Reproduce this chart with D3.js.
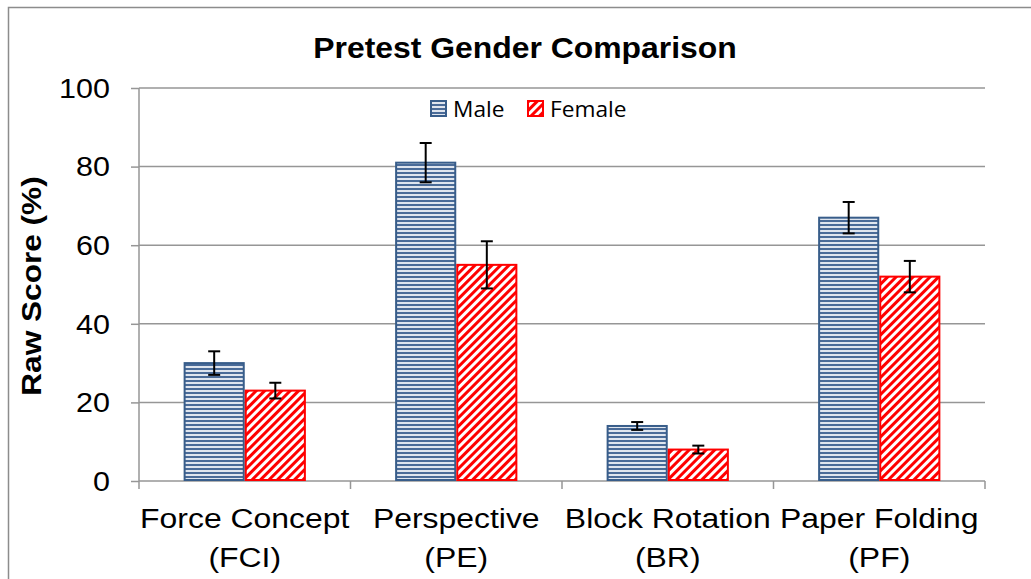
<!DOCTYPE html>
<html><head><meta charset="utf-8">
<script src="https://cdn.jsdelivr.net/npm/d3@7"></script>
<style>body{margin:0;background:#fff;} svg{display:block;}</style>
</head><body>
<svg id="c" width="1031" height="579"></svg>
<script>
const categories = [["Force Concept","(FCI)"],["Perspective","(PE)"],["Block Rotation","(BR)"],["Paper Folding","(PF)"]];
const seriesNames = ["Male","Female"];
const maleValues = [30, 81, 14, 67];
const femaleValues = [23, 55, 8, 52];
const maleErrors = [3, 5, 1, 4];
const femaleErrors = [2, 6, 1, 4];
const yTicks = [0, 20, 40, 60, 80, 100];

(function(){
const svg = d3.select("#c");
const pLeft = 139, pRight = 985, pTop = 88, pBottom = 481;
const FONT = "Liberation Sans, Arial, sans-serif";

const defs = svg.append("defs");
const pm = defs.append("pattern").attr("id","pm").attr("patternUnits","userSpaceOnUse").attr("width",8).attr("height",4);
pm.append("rect").attr("width",8).attr("height",4).attr("fill","#dfe5ee");
pm.append("rect").attr("y",0).attr("width",8).attr("height",2).attr("fill","#4a6b98");
const pf = defs.append("pattern").attr("id","pf").attr("patternUnits","userSpaceOnUse").attr("width",6).attr("height",6).attr("patternTransform","rotate(45)");
pf.append("rect").attr("width",6).attr("height",6).attr("fill","#fff");
pf.append("rect").attr("width",3).attr("height",6).attr("fill","#ff0000");

// outer border
svg.append("rect").attr("x",8.5).attr("y",7.5).attr("width",1040).attr("height",600).attr("fill","none").attr("stroke","#8c8c8c").attr("stroke-width",1.5);

const x0 = d3.scaleBand().domain(d3.range(categories.length)).range([pLeft,pRight]).paddingInner(0).paddingOuter(0);
const x1 = d3.scaleBand().domain(seriesNames).range([0,x0.bandwidth()]).paddingOuter(0.73).paddingInner(0);
const y = d3.scaleLinear().domain([0,100]).range([pBottom,pTop]);

// gridlines
svg.append("g").selectAll("line").data(yTicks.filter(d=>d>0)).join("line")
  .attr("x1",pLeft).attr("x2",pRight).attr("y1",d=>y(d)).attr("y2",d=>y(d))
  .attr("stroke","#969696").attr("stroke-width",1.5);

// y axis
const ya = svg.append("g").attr("transform",`translate(${pLeft},0)`).call(d3.axisLeft(y).tickValues(yTicks).tickSize(8).tickFormat(""));
ya.select(".domain").attr("stroke","#969696").attr("stroke-width",1.5).attr("d",`M0,${pTop}V${pBottom}`);
ya.selectAll(".tick line").attr("stroke","#969696").attr("stroke-width",1.5);
svg.append("g").selectAll("text").data(yTicks).join("text")
  .attr("transform",d=>`translate(110,${y(d)}) scale(1.13,1)`)
  .attr("text-anchor","end").attr("dy","0.36em")
  .attr("font-family",FONT).attr("font-size",27).attr("fill","#000").text(d=>d);

// x axis
const xa = svg.append("g").attr("transform",`translate(0,${pBottom})`);
xa.append("line").attr("x1",pLeft).attr("x2",pRight).attr("stroke","#969696").attr("stroke-width",1.5);
xa.selectAll(".tk").data(d3.range(categories.length+1)).join("line").attr("class","tk")
  .attr("x1",i=>pLeft+i*x0.bandwidth()).attr("x2",i=>pLeft+i*x0.bandwidth()).attr("y1",0).attr("y2",8)
  .attr("stroke","#969696").attr("stroke-width",1.5);
const xl = xa.selectAll(".lab").data(categories).join("text").attr("class","lab")
  .attr("transform",(d,i)=>`translate(${x0(i)+x0.bandwidth()/2},0) scale(1.14,1)`)
  .attr("text-anchor","middle").attr("font-family",FONT).attr("font-size",28).attr("fill","#000");
xl.append("tspan").attr("x",0).attr("y",47).text(d=>d[0]);
xl.append("tspan").attr("x",0).attr("y",86).text(d=>d[1]);

// bars
const data = categories.map((c,i)=>[
  {s:"Male", v:maleValues[i], e:maleErrors[i], i},
  {s:"Female", v:femaleValues[i], e:femaleErrors[i], i}
]).flat();
const fills = {Male:"url(#pm)", Female:"url(#pf)"};
const strokes = {Male:"#385d8a", Female:"#ff0000"};
svg.append("g").selectAll("rect").data(data).join("rect")
  .attr("x",d=>x0(d.i)+x1(d.s)+1).attr("width",x1.bandwidth()-2)
  .attr("y",d=>y(d.v)).attr("height",d=>y(0)-y(d.v)-1)
  .attr("fill",d=>fills[d.s]).attr("stroke",d=>strokes[d.s]).attr("stroke-width",2);

// error bars
const eb = svg.append("g").attr("stroke","#000").attr("stroke-width",2);
data.forEach(d=>{
  const cx = x0(d.i)+x1(d.s)+x1.bandwidth()/2;
  eb.append("line").attr("x1",cx).attr("x2",cx).attr("y1",y(d.v+d.e)).attr("y2",y(d.v-d.e));
  eb.append("line").attr("x1",cx-6).attr("x2",cx+6).attr("y1",y(d.v+d.e)).attr("y2",y(d.v+d.e));
  eb.append("line").attr("x1",cx-6).attr("x2",cx+6).attr("y1",y(d.v-d.e)).attr("y2",y(d.v-d.e));
});

// title
svg.append("text").attr("transform","translate(525,58) scale(1.1,1)").attr("text-anchor","middle")
  .attr("font-family",FONT).attr("font-weight","bold").attr("font-size",29).text("Pretest Gender Comparison");

// y label
svg.append("text").attr("transform","translate(41,286) rotate(-90) scale(1.17,1)").attr("text-anchor","middle")
  .attr("font-family",FONT).attr("font-weight","bold").attr("font-size",27).text("Raw Score (%)");

// legend
const lg = svg.append("g");
const legX = [431, 528];
seriesNames.forEach((s,i)=>{
  lg.append("rect").attr("x",legX[i]).attr("y",101).attr("width",15).attr("height",15)
    .attr("fill",fills[s]).attr("stroke",strokes[s]).attr("stroke-width",2);
  lg.append("text").attr("transform",`translate(${legX[i]+22},117) scale(1.08,1)`).attr("font-family","Open Sans, Lato, sans-serif")
    .attr("font-size",21).attr("fill","#000").text(s);
});
})();
</script>
</body></html>
